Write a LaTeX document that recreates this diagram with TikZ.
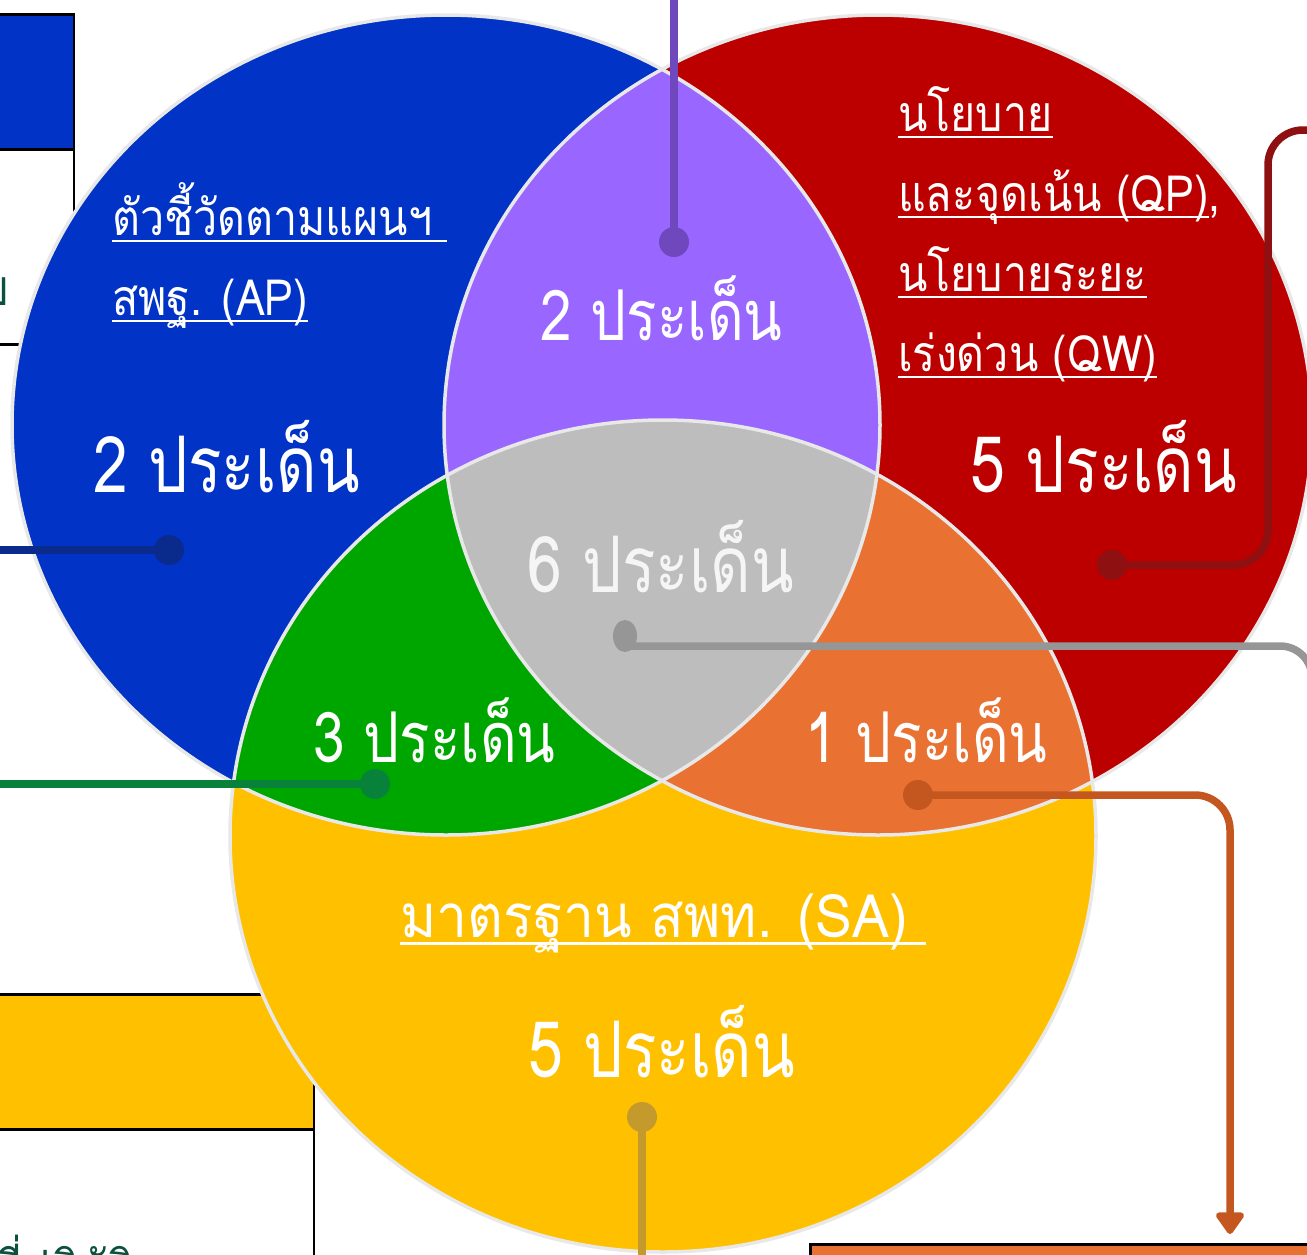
\documentclass[tikz,border=0pt]{standalone}
\usepackage{fontspec}
\newfontfamily\thai[Script=Thai]{Loma}
\newfontfamily\thaiB[Script=Thai,FakeStretch=0.80]{Loma}
\newfontfamily\thaiM[Script=Thai,FakeStretch=0.81]{Loma}
\newfontfamily\thaiL[Script=Thai,FakeStretch=0.86]{Loma}
\newfontfamily\thaiS[Script=Thai,FakeStretch=0.92]{Loma}
\usetikzlibrary{arrows.meta,shapes.geometric}
\definecolor{blueC}{HTML}{0033C6}
\definecolor{redC}{HTML}{BC0000}
\definecolor{yellowC}{HTML}{FFC000}
\definecolor{purpleC}{HTML}{9966FF}
\definecolor{greenC}{HTML}{00A600}
\definecolor{orangeC}{HTML}{E97132}
\definecolor{grayC}{HTML}{BDBDBD}
\definecolor{edgeC}{HTML}{E8E8E8}
\definecolor{purpleL}{HTML}{7048BE}
\definecolor{blueL}{HTML}{0A2A8C}
\definecolor{redL}{HTML}{8E1010}
\definecolor{grayL}{HTML}{969696}
\definecolor{greenL}{HTML}{08823A}
\definecolor{orangeL}{HTML}{C4571F}
\definecolor{goldL}{HTML}{C49A2C}
\definecolor{darkgreenT}{HTML}{0B5140}
\newcommand{\ulx}[1]{\setbox0=\hbox{#1}\rlap{\rule[-0.14em]{\wd0}{0.05em}}\box0}
\newcommand{\bigsz}{\thaiB\fontsize{78}{84}\selectfont}
\newcommand{\midsz}{\thaiM\fontsize{70}{76}\selectfont}
\newcommand{\labsz}{\thaiL\fontsize{50}{56}\selectfont}
\newcommand{\sasz}{\thaiS\fontsize{60}{66}\selectfont}
\begin{document}
\begin{tikzpicture}[x=1pt,y=-1pt,
  boxline/.style={draw=black,line width=2.5pt},
  dot/.style={circle,inner sep=0pt,minimum size=30pt},
  conn/.style={line width=7.5pt},
  txt/.style={anchor=base west,inner sep=0pt,text=white},
  edge/.style={draw=edgeC,line width=3.5pt}]
\useasboundingbox (0,0) rectangle (1307,1254);
% background boxes
\node[boxline,fill=blueC,minimum width=85pt,minimum height=135pt,anchor=north east,inner sep=0pt] (tlbox) at (75,13) {};
\node[boxline,fill=white,minimum width=85pt,minimum height=195pt,anchor=north east,inner sep=0pt] (tlwhite) at (75,148) {};
\node[anchor=base east,inner sep=0pt,text=darkgreenT,font=\labsz] (tlt) at (9,305) {บ};
\node[boxline,fill=yellowC,minimum width=325pt,minimum height=135pt,anchor=north east,inner sep=0pt] (blbox) at (315,993) {};
\node[boxline,fill=white,minimum width=325pt,minimum height=140pt,anchor=north east,inner sep=0pt] (blwhite) at (315,1128) {};
\node[anchor=base west,inner sep=0pt,text=darkgreenT,font=\labsz] (blt) at (-6,1286) {ที่ปฏิบัติ};
\node[boxline,fill=orangeC,minimum width=520pt,minimum height=60pt,anchor=north west,inner sep=0pt] (brbox) at (809,1243) {};
% ellipses
\fill[blueC] (446,425) ellipse [x radius=434pt, y radius=410pt];
\fill[redC] (878,425) ellipse [x radius=434pt, y radius=410pt];
\fill[yellowC] (663,836) ellipse [x radius=433pt, y radius=416pt];
\begin{scope}
\clip (446,425) ellipse [x radius=434pt, y radius=410pt];
\fill[purpleC] (878,425) ellipse [x radius=434pt, y radius=410pt];
\fill[greenC] (663,836) ellipse [x radius=433pt, y radius=416pt];
\end{scope}
\begin{scope}
\clip (878,425) ellipse [x radius=434pt, y radius=410pt];
\fill[orangeC] (663,836) ellipse [x radius=433pt, y radius=416pt];
\clip (446,425) ellipse [x radius=434pt, y radius=410pt];
\fill[grayC] (663,836) ellipse [x radius=433pt, y radius=416pt];
\end{scope}
\draw[edge] (446,425) ellipse [x radius=434pt, y radius=410pt];
\draw[edge] (878,425) ellipse [x radius=434pt, y radius=410pt];
\draw[edge] (663,836) ellipse [x radius=433pt, y radius=416pt];
% connectors
\node[dot,fill=purpleL] (pd) at (674,242) {};
\coordinate (ptop) at (674,-10);
\draw[conn,purpleL] (ptop) -- (pd.center);
\node[dot,fill=blueL] (bd) at (169,550) {};
\coordinate (bleft) at (-10,550);
\draw[conn,blueL] (bleft) -- (bd.center);
\node[dot,fill=redL] (rd) at (1112,565) {};
\coordinate (rend) at (1330,130);
\draw[conn,redL,rounded corners=35pt] (rd.center) -- (1268,565) -- (1268,130) -- (rend);
\node[ellipse,inner sep=0pt,fill=grayL,minimum width=24pt,minimum height=32pt] (gd) at (625,636) {};
\coordinate (gend) at (1312,720);
\draw[conn,grayL,rounded corners=32pt] ([yshift=-10pt]gd.center) -- (1312,646) -- (gend);
\node[dot,fill=greenL] (grd) at (375,784) {};
\coordinate (gleft) at (-10,784);
\draw[conn,greenL] (gleft) -- (grd.center);
\node[dot,fill=orangeL] (od) at (918,795) {};
\coordinate (oarr) at (1230,1234);
\draw[conn,orangeL,rounded corners=35pt,-{Triangle[width=32pt,length=24pt,round]}] (od.center) -- (1230,795) -- (oarr);
\node[dot,fill=goldL] (yd) at (642,1117) {};
\coordinate (ybot) at (642,1270);
\draw[conn,goldL] (yd.center) -- (ybot);
% texts
\node[txt,font=\labsz] (ap1) at (112,235) {\ulx{ตัวชี้วัดตามแผนฯ\ }};
\node[txt,font=\labsz] (ap2) at (112,315) {\ulx{สพฐ. (AP)}};
\node[txt,font=\bigsz] (n2b) at (93,492) {2 ประเด็น};
\node[txt,font=\midsz] (n2p) at (540,340) {2 ประเด็น};
\node[txt,font=\labsz] (qp1) at (898,131) {\ulx{นโยบาย}};
\node[txt,font=\labsz] (qp2) at (898,211) {\ulx{และจุดเน้น (QP)},};
\node[txt,font=\labsz] (qp3) at (898,291) {\ulx{นโยบายระยะ}};
\node[txt,font=\labsz] (qp4) at (898,371) {\ulx{เร่งด่วน (QW)}};
\node[txt,font=\bigsz] (n5r) at (970,492) {5 ประเด็น};
\node[txt,font=\bigsz,text=white!96!black] (n6) at (527,592) {6 ประเด็น};
\node[txt,font=\midsz] (n3) at (313,762) {3 ประเด็น};
\node[txt,font=\midsz] (n1) at (805,762) {1 ประเด็น};
\node[txt,font=\sasz] (sa) at (400,937) {\ulx{มาตรฐาน สพท. (SA)\ }};
\node[txt,font=\bigsz] (n5y) at (528,1077) {5 ประเด็น};
\end{tikzpicture}
\end{document}
